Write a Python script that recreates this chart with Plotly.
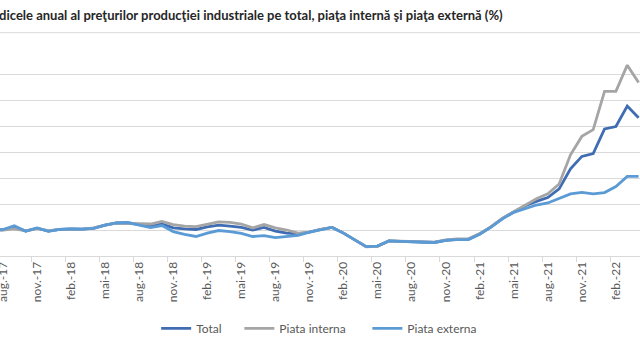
import plotly.graph_objects as go

month_abbr = ["ian.", "feb.", "mar.", "apr.", "mai", "iun.", "iul.", "aug.", "sep.", "oct.", "nov.", "dec."]
# monthly categories: iul.-17 ... apr.-22
months = [f"{month_abbr[(6 + k) % 12]}-{17 + (6 + k) // 12}" for k in range(58)]

tick_labels = ["aug.-17", "nov.-17", "feb.-18", "mai-18", "aug.-18", "nov.-18", "feb.-19",
               "mai-19", "aug.-19", "nov.-19", "feb.-20", "mai-20", "aug.-20", "nov.-20",
               "feb.-21", "mai-21", "aug.-21", "nov.-21", "feb.-22"]

total = [100.0, 100.1, 101.2, 99.6, 100.7, 99.6, 100.2, 100.4, 100.3, 100.7, 101.9,
         102.7, 102.8, 102.1, 101.3, 102.3, 100.8, 100.4, 100.2, 101.2, 101.9,
         101.5, 101.0, 100.0, 101.0, 99.6, 98.8, 98.5, 99.2, 100.2, 101.0,
         98.8, 96.1, 93.6, 93.8, 95.8, 95.6, 95.5, 95.2, 95.2, 96.0,
         96.4, 96.4, 98.5, 101.2, 104.4, 106.9, 109.3, 111.0, 112.5, 115.8,
         123.5, 128.3, 129.4, 138.9, 139.8, 147.7, 143.2]

piata_interna = [100.0, 100.0, 100.4, 99.7, 100.5, 99.8, 100.2, 100.3, 100.3, 100.8, 101.9,
                 102.6, 102.6, 102.4, 102.3, 103.3, 102.1, 101.5, 101.3, 102.1, 103.1,
                 102.9, 102.3, 100.8, 102.1, 100.8, 100.0, 98.8, 99.2, 100.2, 101.0,
                 98.8, 96.0, 93.5, 93.7, 95.8, 95.7, 95.6, 95.3, 95.3, 96.2,
                 96.6, 96.6, 98.6, 101.3, 104.5, 107.0, 109.6, 112.0, 113.9, 117.7,
                 128.9, 136.0, 138.6, 153.3, 153.3, 163.4, 156.7]

piata_externa = [100.0, 100.2, 101.6, 99.5, 100.8, 99.5, 100.2, 100.4, 100.3, 100.6, 101.9,
                 102.7, 102.8, 101.8, 100.9, 101.7, 99.4, 98.3, 97.5, 98.8, 99.8,
                 99.4, 98.7, 97.5, 97.8, 97.1, 97.4, 97.9, 99.2, 100.2, 101.0,
                 98.8, 96.1, 93.6, 93.8, 95.8, 95.6, 95.5, 95.2, 95.2, 96.0,
                 96.3, 96.3, 98.4, 101.1, 104.3, 106.8, 108.3, 109.6, 110.4, 112.0,
                 113.9, 114.5, 113.9, 114.4, 116.7, 120.6, 120.6]

x = list(range(len(months)))
tick_pos = [months.index(t) for t in tick_labels]

series = [
    ("Total", total, "#3F6CB3", "legend", 0.244),
    ("Piata interna", piata_interna, "#A5A5A5", "legend2", 0.374),
    ("Piata externa", piata_externa, "#5B9BD5", "legend3", 0.574),
]

fig = go.Figure()
for name, vals, col, leg, _ in series:
    fig.add_trace(go.Scatter(x=x, y=vals, mode="lines", name=name, legend=leg,
                             customdata=months,
                             hovertemplate="%{customdata}: %{y}<extra>" + name + "</extra>",
                             line=dict(color=col, width=2.8)))

px_per_month = 11.35
left_edge = 1 - 3 / px_per_month
right_edge = left_edge + 640 / px_per_month

legend_common = dict(orientation="h", xanchor="left", y=-0.348, yanchor="middle",
                     font=dict(size=12, color="#595959"), bgcolor="rgba(0,0,0,0)")

fig.update_layout(
    width=640, height=360,
    margin=dict(l=0, r=0, t=48, b=104),
    paper_bgcolor="white", plot_bgcolor="white",
    font=dict(family="Lato, Open Sans, sans-serif", color="#595959", size=12),
    showlegend=True,
    legend=dict(x=series[0][4], **legend_common),
    legend2=dict(x=series[1][4], **legend_common),
    legend3=dict(x=series[2][4], **legend_common),
    xaxis=dict(range=[left_edge, right_edge], showgrid=False, zeroline=False,
               automargin=False, ticklabeloverflow="allow",
               tickmode="array", tickvals=tick_pos, ticktext=tick_labels,
               tickangle=-90, ticks="", tickfont=dict(size=12, color="#595959"),
               showline=True, linecolor="#D9D9D9", linewidth=1,
               minor=dict(tickmode="array", tickvals=[p - 0.5 for p in tick_pos],
                          ticks="outside", ticklen=5, tickcolor="#D9D9D9", tickwidth=1,
                          showgrid=False)),
    yaxis=dict(range=[90, 170], dtick=10, showgrid=True, gridcolor="#D9D9D9", gridwidth=1,
               automargin=False, zeroline=False, showticklabels=False, ticks=""),
    annotations=[dict(text="<b>Indicele anual al preţurilor producţiei industriale pe total, piaţa internă şi piaţa externă (%)</b>",
                      xref="paper", yref="paper", x=-0.022, xanchor="left",
                      y=1.157, yanchor="middle", showarrow=False,
                      font=dict(size=13, color="#262626"))],
    shapes=[dict(type="line", xref="paper", yref="paper", x0=0, x1=1, y0=1.0736, y1=1.0736,
                 line=dict(color="#D9D9D9", width=1))],
)

fig.write_html("out.html", config={"displayModeBar": False},
               post_script="document.body.style.margin='0px';document.body.style.padding='0px';")
